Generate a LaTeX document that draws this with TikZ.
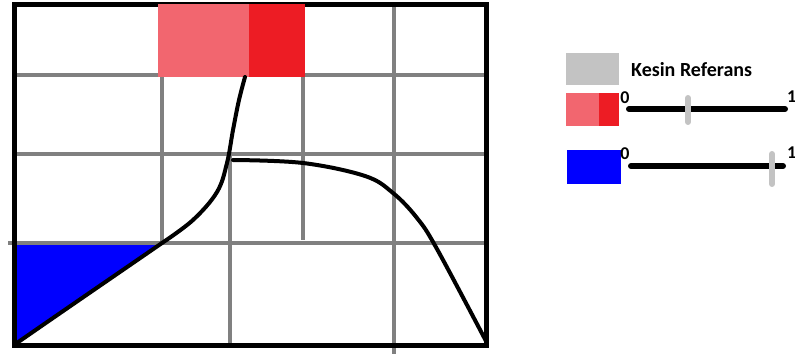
\documentclass[tikz,border=0pt]{standalone}
\usepackage{fontspec}
\setmainfont{Carlito}
\begin{document}
\begin{tikzpicture}[x=1pt,y=-1pt,
  gridline/.style={draw=gridgray,line width=4.5pt},
  frameline/.style={draw=black,line width=5pt},
  curveline/.style={draw=black,line width=4pt,line cap=round,line join=round},
  box/.style={inner sep=0pt,outer sep=0pt,anchor=north west},
  slider/.style={draw=black,line width=6pt,line cap=round},
  tick/.style={draw=tickgray,line width=6pt,line cap=round},
  lbl/.style={font=\bfseries\fontsize{18}{18}\selectfont,inner sep=0pt}]
\definecolor{gridgray}{HTML}{808080}
\definecolor{tickgray}{HTML}{C3C3C3}
\definecolor{lightred}{HTML}{F2666F}
\definecolor{darkred}{HTML}{ED1C24}
\definecolor{pureblue}{HTML}{0000FF}
\useasboundingbox (0,0) rectangle (795,358);
% blue triangle
\coordinate (o) at (14,345);
\coordinate (p1) at (162,243);
\coordinate (bl) at (14,243);
\fill[pureblue] (bl) -- (p1) .. controls (120,272) and (60,313) .. (o) -- cycle;
% grid lines
\coordinate (h1a) at (12,75);  \coordinate (h1b) at (485,75);
\coordinate (h2a) at (13,154); \coordinate (h2b) at (485,154);
\coordinate (h3a) at (8,243);  \coordinate (h3b) at (487,243);
\coordinate (v1a) at (162,75); \coordinate (v1b) at (162,243);
\coordinate (v2a) at (230,154);\coordinate (v2b) at (230,345);
\coordinate (v3a) at (303,2);  \coordinate (v3b) at (303,240);
\coordinate (v4a) at (394,3);  \coordinate (v4b) at (394,354);
\draw[gridline] (h1a) -- (h1b);
\draw[gridline] (h2a) -- (h2b);
\draw[gridline] (h3a) -- (h3b);
\draw[gridline] (v1a) -- (v1b);
\draw[gridline] (v2a) -- (v2b);
\draw[gridline] (v3a) -- (v3b);
\draw[gridline] (v4a) -- (v4b);
% frame
\coordinate (fa) at (14,5);
\coordinate (fb) at (486,345);
\draw[frameline] (fa) rectangle (fb);
% red block
\node[box,fill=lightred,minimum width=91pt,minimum height=73pt] (rl) at (158,4) {};
\node[box,fill=darkred,minimum width=56pt,minimum height=73pt] (rd) at (rl.north east) {};
% curves
\draw[curveline] (o) .. controls (60,313) and (120,272) .. (p1);
\draw[curveline] plot[smooth,tension=0.6] coordinates {(162,243) (193,220) (217,192) (227,163) (233,130) (239,100) (245,77)};
\draw[curveline] plot[smooth,tension=0.6] coordinates {(233,160) (303,163) (365,176) (393,193) (417,218) (437,249) (487,343)};
% legend
\node[box,fill=tickgray,minimum width=53pt,minimum height=32pt] (lg) at (566,53) {};
\node[lbl,font=\bfseries\fontsize{20}{20}\selectfont,anchor=base west] (lgt) at (631,77) {Kesin Referans};
\node[box,fill=lightred,minimum width=33pt,minimum height=33pt] (lr1) at (566,93) {};
\node[box,fill=darkred,minimum width=20pt,minimum height=33pt] (lr2) at (lr1.north east) {};
\node[box,fill=pureblue,minimum width=54pt,minimum height=34pt] (lb) at (567,150) {};
% sliders
\coordinate (s1a) at (629,109); \coordinate (s1b) at (785,109);
\coordinate (t1a) at (688,98);  \coordinate (t1b) at (688,122);
\draw[slider] (s1a) -- (s1b);
\draw[tick] (t1a) -- (t1b);
\node[lbl,anchor=north] (z1) at (625,91) {0};
\node[lbl,anchor=north west] (o1) at (787,91) {1};
\coordinate (s2a) at (631,166); \coordinate (s2b) at (783,166);
\coordinate (t2a) at (772,154); \coordinate (t2b) at (772,184);
\draw[slider] (s2a) -- (s2b);
\draw[tick] (t2a) -- (t2b);
\node[lbl,anchor=north] (z2) at (625,147) {0};
\node[lbl,anchor=north west] (o2) at (787,147) {1};
\end{tikzpicture}
\end{document}
